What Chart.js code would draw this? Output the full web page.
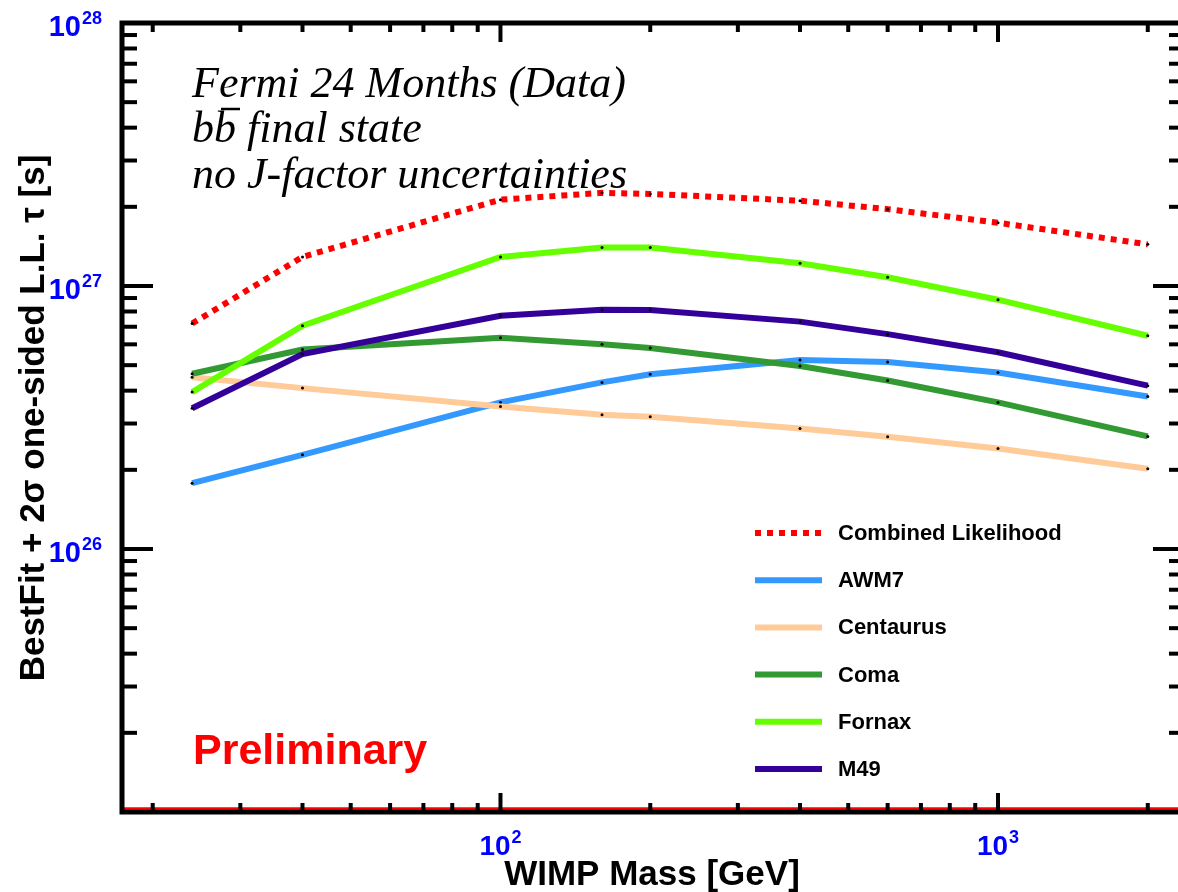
<!DOCTYPE html>
<html>
<head>
<meta charset="utf-8">
<title>WIMP decay lifetime limits</title>
<script src="https://cdn.jsdelivr.net/npm/chart.js@4.4.1/dist/chart.umd.min.js"></script>
<style>
  html, body { margin: 0; padding: 0; background: #fff; overflow: hidden; }
  #wrap { width: 1190px; height: 892px; }
</style>
</head>
<body>
<div id="wrap"><canvas id="chart" width="1190" height="892"></canvas></div>
<script>
// WIMP mass points [GeV]
const masses = [24, 40, 100, 160, 200, 400, 600, 1000, 2000];

// lower limits on lifetime tau [s]
const combined  = [7.2e26, 1.29e27, 2.13e27, 2.26e27, 2.24e27, 2.11e27, 1.96e27, 1.74e27, 1.44e27];
const awm7      = [1.78e26, 2.28e26, 3.61e26, 4.30e26, 4.62e26, 5.23e26, 5.14e26, 4.69e26, 3.80e26];
const centaurus = [4.50e26, 4.09e26, 3.48e26, 3.24e26, 3.18e26, 2.87e26, 2.67e26, 2.41e26, 2.02e26];
const coma      = [4.64e26, 5.73e26, 6.36e26, 6.01e26, 5.81e26, 4.96e26, 4.37e26, 3.61e26, 2.68e26];
const fornax    = [3.95e26, 7.06e26, 1.29e27, 1.40e27, 1.40e27, 1.22e27, 1.08e27, 8.87e26, 6.47e26];
const m49       = [3.43e26, 5.51e26, 7.71e26, 8.13e26, 8.11e26, 7.32e26, 6.56e26, 5.60e26, 4.18e26];

const seriesNames = ['Combined Likelihood', 'AWM7', 'Centaurus', 'Coma', 'Fornax', 'M49'];

// axis ticks
const xMajorTicks = [100, 1000];
const xMinorTicks = [20, 30, 40, 50, 60, 70, 80, 90, 200, 300, 400, 500, 600, 700, 800, 900, 2000];
const yMajorTicks = [1e25, 1e26, 1e27, 1e28];
const yMinorTicks = [];
[1e25, 1e26, 1e27].forEach(d => { for (let k = 2; k <= 9; k++) yMinorTicks.push(k * d); });

const toPoints = vals => masses.map((m, i) => ({ x: m, y: vals[i] }));

const mkSet = (label, vals, color, order, dash) => ({
  label,
  data: toPoints(vals),
  borderColor: color,
  backgroundColor: color,
  borderWidth: 6,
  borderDash: dash || [],
  tension: 0,
  order,
  pointRadius: 1.5,
  pointBorderWidth: 0,
  pointBackgroundColor: '#000',
  fill: false
});

// superscript power label, e.g. 10^27
function powLabel(ctx, exp, x, base, align, big, small) {
  ctx.font = 'bold ' + big + 'px "Liberation Sans", Arial, sans-serif';
  const w10 = ctx.measureText('10').width;
  ctx.font = 'bold ' + small + 'px "Liberation Sans", Arial, sans-serif';
  const wExp = ctx.measureText(exp).width;
  const total = w10 + wExp + 1;
  const start = align === 'right' ? x - total : x - total / 2;
  ctx.textAlign = 'left';
  ctx.textBaseline = 'alphabetic';
  ctx.font = 'bold ' + big + 'px "Liberation Sans", Arial, sans-serif';
  ctx.fillText('10', start, base);
  ctx.font = 'bold ' + small + 'px "Liberation Sans", Arial, sans-serif';
  ctx.fillText(exp, start + w10 + 1, base - 12);
}

const rootFrame = {
  id: 'rootFrame',
  afterDatasetsDraw(chart) {
    const { ctx, chartArea: a, scales: { x, y } } = chart;
    ctx.save();

    // thin red line along the lower edge
    ctx.strokeStyle = '#ff0000';
    ctx.lineWidth = 2.5;
    ctx.beginPath();
    ctx.moveTo(a.left, a.bottom - 3.5);
    ctx.lineTo(a.right, a.bottom - 3.5);
    ctx.stroke();

    // ticks, pointing inwards on all four sides
    ctx.strokeStyle = '#000';
    ctx.lineWidth = 4;
    const seg = (x1, y1, x2, y2) => { ctx.beginPath(); ctx.moveTo(x1, y1); ctx.lineTo(x2, y2); ctx.stroke(); };
    xMajorTicks.forEach(v => { const p = x.getPixelForValue(v); seg(p, a.bottom, p, a.bottom - 19); seg(p, a.top, p, a.top + 19); });
    xMinorTicks.forEach(v => { const p = x.getPixelForValue(v); seg(p, a.bottom, p, a.bottom - 9); seg(p, a.top, p, a.top + 9); });
    yMajorTicks.forEach(v => { const p = y.getPixelForValue(v); seg(a.left, p, a.left + 31, p); seg(a.right, p, a.right - 31, p); });
    yMinorTicks.forEach(v => { const p = y.getPixelForValue(v); seg(a.left, p, a.left + 15, p); seg(a.right, p, a.right - 15, p); });

    // frame
    ctx.lineWidth = 5;
    ctx.strokeRect(a.left, a.top, a.right - a.left, a.bottom - a.top);

    // tick labels
    ctx.fillStyle = '#0000ff';
    [1e26, 1e27, 1e28].forEach(v => {
      const p = y.getPixelForValue(v);
      powLabel(ctx, String(Math.round(Math.log10(v))), a.left - 20, p + 13, 'right', 29, 18);
    });
    xMajorTicks.forEach(v => {
      const p = x.getPixelForValue(v);
      powLabel(ctx, String(Math.round(Math.log10(v))), p, a.bottom + 43, 'center', 28, 18);
    });

    // axis titles
    ctx.fillStyle = '#000';
    ctx.font = 'bold 35px "Liberation Sans", Arial, sans-serif';
    ctx.textAlign = 'center';
    ctx.textBaseline = 'alphabetic';
    ctx.fillText('WIMP Mass [GeV]', 652, 885);
    ctx.save();
    ctx.translate(44, 418);
    ctx.rotate(-Math.PI / 2);
    ctx.fillText('BestFit + 2\u03c3 one-sided L.L. \u03c4 [s]', 0, 0);
    ctx.restore();

    // annotation block
    ctx.textAlign = 'left';
    ctx.font = 'italic 44px "Liberation Serif", "Times New Roman", serif';
    ctx.fillText('Fermi 24 Months (Data)', 192, 97);
    ctx.fillText('bb final state', 192, 142);
    ctx.fillText('no J-factor uncertainties', 192, 188);
    const wb = ctx.measureText('b').width;
    ctx.lineWidth = 2.5;
    seg(192 + wb + 7, 109, 192 + 2 * wb + 4, 109);

    ctx.fillStyle = '#ff0000';
    ctx.font = 'bold 43px "Liberation Sans", Arial, sans-serif';
    ctx.fillText('Preliminary', 193, 764);

    // legend
    ctx.font = 'bold 22px "Liberation Sans", Arial, sans-serif';
    ctx.textBaseline = 'middle';
    chart.data.datasets.forEach((ds, i) => {
      const ly = 533 + i * 47.2;
      ctx.strokeStyle = ds.borderColor;
      ctx.lineWidth = 6;
      ctx.setLineDash(ds.borderDash);
      seg(755, ly, 822, ly);
      ctx.setLineDash([]);
      ctx.fillStyle = '#000';
      ctx.fillText(ds.label, 838, ly + 1);
    });

    ctx.restore();
  }
};

new Chart(document.getElementById('chart'), {
  type: 'line',
  data: {
    datasets: [
      mkSet(seriesNames[0], combined, '#ff0000', 5, [6, 6]),
      mkSet(seriesNames[1], awm7, '#3399ff', 4),
      mkSet(seriesNames[2], centaurus, '#ffcc99', 3),
      mkSet(seriesNames[3], coma, '#339933', 2),
      mkSet(seriesNames[4], fornax, '#66ff00', 1),
      mkSet(seriesNames[5], m49, '#330099', 0)
    ]
  },
  options: {
    responsive: false,
    devicePixelRatio: 1,
    animation: false,
    layout: { padding: { left: 122, top: 23, right: 6, bottom: 80 } },
    plugins: { legend: { display: false }, tooltip: { enabled: false } },
    scales: {
      x: { type: 'logarithmic', min: 17.35, max: 2365, display: false },
      y: { type: 'logarithmic', min: 1e25, max: 1e28, display: false }
    }
  },
  plugins: [rootFrame]
});
</script>
</body>
</html>
